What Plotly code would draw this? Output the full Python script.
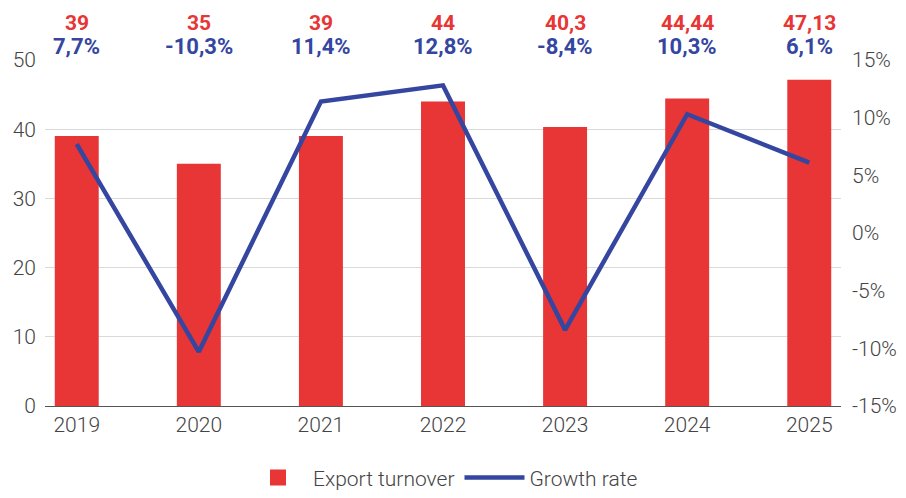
import plotly.graph_objects as go

years = ["2019", "2020", "2021", "2022", "2023", "2024", "2025"]
turnover = [39, 35, 39, 44, 40.3, 44.44, 47.13]
growth = [7.7, -10.3, 11.4, 12.8, -8.4, 10.3, 6.1]
turnover_labels = ["39", "35", "39", "44", "40,3", "44,44", "47,13"]
growth_labels = ["7,7%", "-10,3%", "11,4%", "12,8%", "-8,4%", "10,3%", "6,1%"]
right_ticks = [-15, -10, -5, 0, 5, 10, 15]

RED = "#e83535"
BLUE = "#3446a0"
FONT = "Roboto, sans-serif"
TICK_FONT = dict(family=FONT, size=21, color="#444444", weight=300)

xs = list(range(len(years)))

fig = go.Figure()
fig.add_trace(go.Bar(
    x=xs, y=turnover,
    name="Export turnover",
    marker=dict(color=RED, line=dict(width=0)),
    width=0.36,
    showlegend=False,
))
# legend stand-in for the bars (bigger square than the default bar swatch)
fig.add_trace(go.Scatter(
    x=[None], y=[None],
    name="Export turnover",
    mode="markers",
    marker=dict(color=RED, symbol="square", size=22),
))
fig.add_trace(go.Scatter(
    x=xs, y=growth,
    name="Growth rate",
    yaxis="y2",
    mode="lines",
    line=dict(color=BLUE, width=4.5),
))

for i, (t, g) in enumerate(zip(turnover_labels, growth_labels)):
    fig.add_annotation(x=i, y=1.108, xref="x", yref="paper", yanchor="middle",
                       text=f"<b>{t}</b>", showarrow=False, borderpad=0,
                       font=dict(family=FONT, size=21, color=RED))
    fig.add_annotation(x=i, y=1.040, xref="x", yref="paper", yanchor="middle",
                       text=f"<b>{g}</b>", showarrow=False, borderpad=0,
                       font=dict(family=FONT, size=22, color=BLUE))

fig.update_layout(
    width=890, height=482,
    template="none",
    paper_bgcolor="white",
    plot_bgcolor="white",
    margin=dict(l=37, r=57, t=52, b=84, autoexpand=False),
    showlegend=True,
    legend=dict(
        orientation="h",
        x=0.5, xanchor="center",
        y=-0.208, yanchor="middle",
        font=dict(family=FONT, size=21, color="#444444", weight=300),
        itemwidth=60,
        itemsizing="trace",
    ),
    xaxis=dict(
        range=[-0.26, 6.26],
        tickvals=xs,
        ticktext=years,
        tickfont=TICK_FONT,
        showgrid=False,
        showline=True,
        linecolor="#555555",
        linewidth=1,
        ticks="",
        zeroline=False,
        automargin=False,
    ),
    yaxis=dict(
        range=[0, 50],
        dtick=10,
        tickfont=TICK_FONT,
        showgrid=True,
        gridcolor="#d9d9d9",
        gridwidth=1,
        zeroline=False,
        showline=False,
        ticks="",
        ticklabelstandoff=8,
        automargin=False,
    ),
    yaxis2=dict(
        range=[-15, 15],
        tickvals=right_ticks,
        ticktext=[f"{v}%" for v in right_ticks],
        overlaying="y",
        side="right",
        tickfont=TICK_FONT,
        showgrid=False,
        zeroline=False,
        showline=False,
        ticks="",
        ticklabelstandoff=10,
        automargin=False,
    ),
)

fig.write_html("out.html")
